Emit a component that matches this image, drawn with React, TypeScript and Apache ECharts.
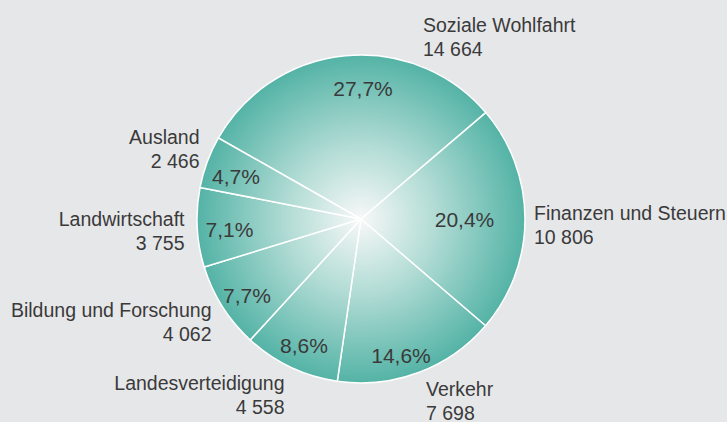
import React, { useEffect, useRef } from "react";
import * as echarts from "echarts";

const categories = [
  "Soziale Wohlfahrt",
  "Finanzen und Steuern",
  "Verkehr",
  "Landesverteidigung",
  "Bildung und Forschung",
  "Landwirtschaft",
  "Ausland",
];
const values = [14664, 10806, 7698, 4558, 4062, 3755, 2466];
const shares = ["27,7%", "20,4%", "14,6%", "8,6%", "7,7%", "7,1%", "4,7%"];

// label placement (layout only)
const nameLabelPos: [number, number, string][] = [
  [423, 36.9, "left"],
  [534, 224.5, "left"],
  [426, 401.2, "left"],
  [284.5, 394.5, "right"],
  [211.5, 321.9, "right"],
  [184.5, 231.2, "right"],
  [199.5, 148.5, "right"],
];
const shareLabelPos: [number, number][] = [
  [363, 88],
  [464.5, 219],
  [401, 355],
  [304, 345.5],
  [247, 295],
  [229.5, 229],
  [236, 176],
];

const W = 727;
const H = 422;
const CX = 361;
const CY = 219;
const R = 164;
const START = 150.4;
const FONT = "'Liberation Sans', Arial, sans-serif";
const TEXT = "#3a3a3a";

const fmt = (v: number) => String(v).replace(/\B(?=(\d{3})+(?!\d))/g, " ");

export default function App() {
  const ref = useRef<HTMLDivElement>(null);
  useEffect(() => {
    document.body.style.margin = "0";
    const chart = echarts.init(ref.current!, null, { renderer: "svg" });
    const grad = new echarts.graphic.RadialGradient(
      CX,
      CY,
      R,
      [
        { offset: 0, color: "#f7f8f8" },
        { offset: 0.45, color: "#b2dcd5" },
        { offset: 1, color: "#54b3a6" },
      ],
      true
    );
    const data = categories.map((c, i) => ({ name: c, value: values[i] }));
    chart.setOption({
      animation: false,
      backgroundColor: "#e6e7e9",
      series: [
        {
          type: "pie",
          center: [CX, CY],
          radius: [0, R],
          startAngle: START,
          clockwise: true,
          silent: true,
          avoidLabelOverlap: false,
          itemStyle: { color: grad, borderColor: "#ffffff", borderWidth: 1.5 },
          label: {
            show: true,
            position: "outside",
            overflow: "none",
            edgeDistance: 0,
            bleedMargin: 0,
            fontFamily: FONT,
            fontSize: 19.5,
            lineHeight: 24,
            color: TEXT,
            formatter: (p: any) => `${p.name}\n${fmt(p.value)}`,
          },
          labelLine: { show: false },
          labelLayout: (p: any) => {
            const [x, y, align] = nameLabelPos[p.dataIndex];
            return { x, y, align, verticalAlign: "middle", hideOverlap: false, moveOverlap: null };
          },
          data,
        },
        {
          type: "pie",
          center: [CX, CY],
          radius: [0, R],
          startAngle: START,
          clockwise: true,
          silent: true,
          avoidLabelOverlap: false,
          itemStyle: { color: "rgba(0,0,0,0)", borderWidth: 0 },
          label: {
            show: true,
            position: "inside",
            overflow: "none",
            fontFamily: FONT,
            fontSize: 21,
            color: TEXT,
            formatter: (p: any) => shares[p.dataIndex],
          },
          labelLine: { show: false },
          labelLayout: (p: any) => {
            const [x, y] = shareLabelPos[p.dataIndex];
            return { x, y, align: "center", verticalAlign: "middle" };
          },
          data,
        },
      ],
    });
    return () => chart.dispose();
  }, []);
  return <div ref={ref} style={{ width: W, height: H }} />;
}
